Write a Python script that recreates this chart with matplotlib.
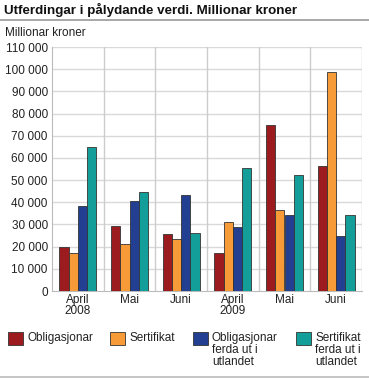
import matplotlib
matplotlib.use("Agg")
import matplotlib.pyplot as plt
from matplotlib.patches import Rectangle
from matplotlib.lines import Line2D
import numpy as np

plt.rcParams['font.family'] = ['Liberation Sans', 'DejaVu Sans']

categories = ["April\n2008", "Mai", "Juni", "April\n2009", "Mai", "Juni"]
obligasjonar = [20000, 29200, 25700, 17300, 75000, 56500]
sertifikat = [17300, 21300, 23300, 31100, 36500, 98600]
oblig_utland = [38200, 40400, 43300, 28700, 34100, 24900]
sert_utland = [64800, 44500, 26000, 55600, 52200, 34400]
series_names = ["Obligasjonar", "Sertifikat", "Obligasjonar\nferda ut i\nutlandet", "Sertifikat\nferda ut i\nutlandet"]
colors = ["#9b1b1f", "#f79a38", "#233f92", "#149e99"]
yticks = list(range(0, 110001, 10000))
ytick_labels = ["0"] + [f"{v // 1000} 000" for v in yticks[1:]]

fig = plt.figure(figsize=(3.69, 3.78), dpi=100)
ax = fig.add_axes([52/369, 1-291/378, 310/369, 244/378])

series = [obligasjonar, sertifikat, oblig_utland, sert_utland]
n = len(categories)
x = np.arange(n) + 0.5
w = 0.179
for i, (vals, c) in enumerate(zip(series, colors)):
    ax.bar(x + (i - 1.5) * w, vals, width=w, color=c, edgecolor="#333333", linewidth=0.6, zorder=3)

ax.set_xlim(0, n)
ax.set_ylim(0, 110000)
ax.set_yticks(yticks)
ax.set_yticklabels(ytick_labels, fontsize=8.5, color="#222222")
ax.set_xticks(x)
ax.set_xticklabels(categories, fontsize=8.5, color="#222222", linespacing=0.95)
ax.tick_params(axis="both", length=0, pad=3)
ax.tick_params(axis="x", pad=2)
for v in yticks[1:]:
    ax.axhline(v, color="#d9d9d9", linewidth=1, zorder=1)
for b in range(1, n + 1):
    ax.axvline(b, color="#cccccc", linewidth=1, zorder=1)
for s in ["top", "right"]:
    ax.spines[s].set_visible(False)
ax.spines["left"].set_color("#bbbbbb")
ax.spines["bottom"].set_color("#bbbbbb")

fig.text(4/369, 1-10/378, "Utferdingar i pålydande verdi. Millionar kroner", fontsize=9.6, fontweight="bold", va="center", ha="left", color="#111111")
fig.add_artist(Line2D([0, 1], [1-20/378, 1-20/378], color="#999999", linewidth=1.2))
fig.text(5/369, 1-33/378, "Millionar kroner", fontsize=8.5, va="center", ha="left", color="#222222")
fig.add_artist(Line2D([0, 1], [1-376.5/378, 1-376.5/378], color="#bbbbbb", linewidth=1.2))

leg_x = [8, 110, 193, 296]
for lx, name, c in zip(leg_x, series_names, colors):
    fig.add_artist(Rectangle((lx/369, 1-345/378), 15/369, 13/378, facecolor=c, edgecolor="#333333", linewidth=0.6))
    fig.text((lx+19)/369, 1-332/378, name, fontsize=8.5, va="top", ha="left", color="#222222", linespacing=1.0)

fig.savefig("out.png", dpi=100)
